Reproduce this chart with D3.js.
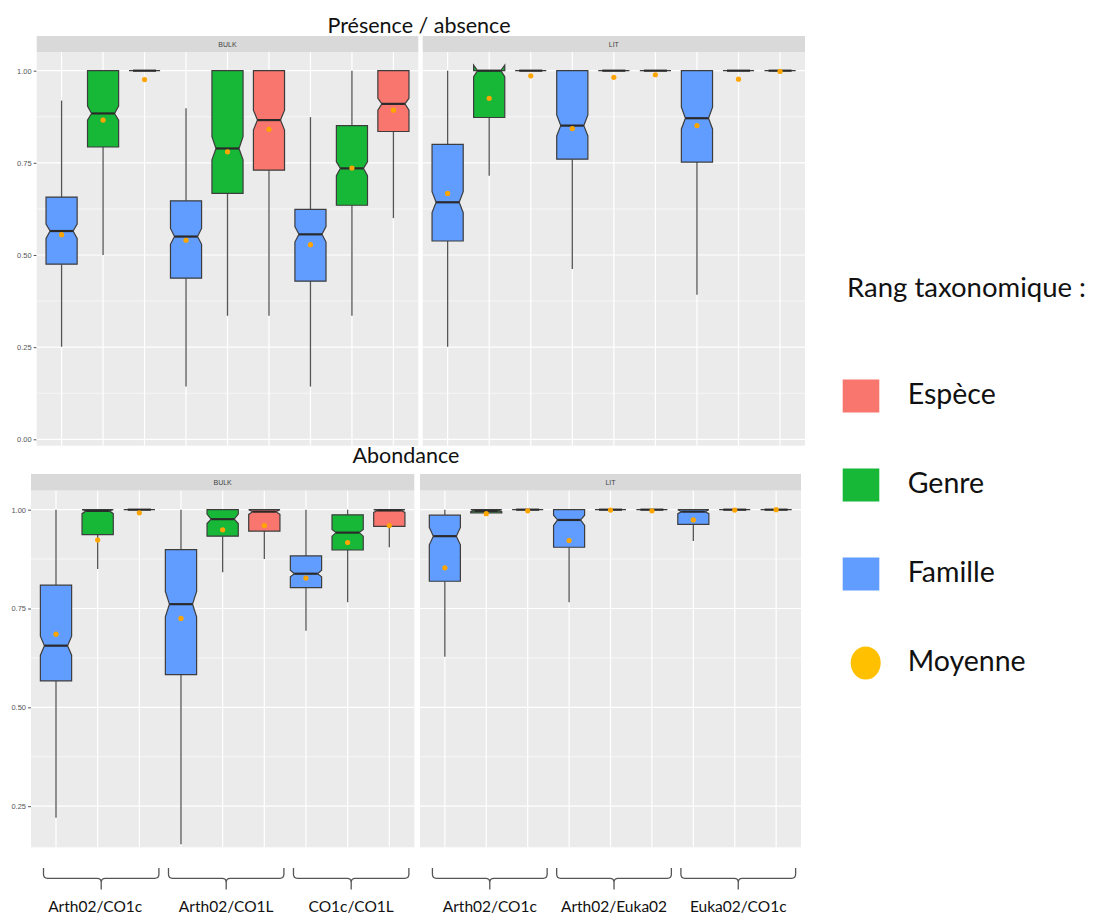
<!DOCTYPE html>
<html>
<head>
<meta charset="utf-8">
<script src="https://cdn.jsdelivr.net/npm/d3@7"></script>
<style>
  body { margin: 0; background: #fff; }
  svg { display: block; }
</style>
</head>
<body>
<div id="chart"></div>
<script>
// ---- data ----
// x order inside each facet: (comparison 1: Famille, Genre, Espece), (comparison 2: ...), ...
var ranks = ["Famille", "Genre", "Espèce"];
var bulkPairs = ["Arth02/CO1c", "Arth02/CO1L", "CO1c/CO1L"];
var litPairs = ["Arth02/CO1c", "Arth02/Euka02", "Euka02/CO1c"];
var facets = ["BULK", "LIT"];
var legendLabels = ["Espèce", "Genre", "Famille", "Moyenne"];

// each row: [ymin, lower, notchlower, middle, notchupper, upper, ymax, mean]
var presBulk = [
  [0.251, 0.475, 0.545, 0.565, 0.584, 0.657, 0.919, 0.555],
  [0.500, 0.793, 0.866, 0.884, 0.904, 1.000, 1.000, 0.866],
  [1.000, 1.000, 1.000, 1.000, 1.000, 1.000, 1.000, 0.976],
  [0.143, 0.437, 0.529, 0.550, 0.572, 0.647, 0.898, 0.540],
  [0.335, 0.667, 0.758, 0.789, 0.821, 1.000, 1.000, 0.780],
  [0.335, 0.730, 0.839, 0.866, 0.893, 1.000, 1.000, 0.841],
  [0.143, 0.429, 0.535, 0.556, 0.577, 0.624, 0.874, 0.528],
  [0.335, 0.635, 0.715, 0.735, 0.753, 0.851, 1.000, 0.736],
  [0.600, 0.835, 0.893, 0.910, 0.925, 1.000, 1.000, 0.893]
];
var presLit = [
  [0.251, 0.538, 0.615, 0.643, 0.672, 0.800, 1.000, 0.667],
  [0.715, 0.873, 0.984, 1.000, 1.015, 1.000, 1.000, 0.925],
  [1.000, 1.000, 1.000, 1.000, 1.000, 1.000, 1.000, 0.986],
  [0.462, 0.760, 0.823, 0.851, 0.880, 1.000, 1.000, 0.843],
  [1.000, 1.000, 1.000, 1.000, 1.000, 1.000, 1.000, 0.982],
  [1.000, 1.000, 1.000, 1.000, 1.000, 1.000, 1.000, 0.989],
  [0.392, 0.752, 0.842, 0.871, 0.901, 1.000, 1.000, 0.851],
  [1.000, 1.000, 1.000, 1.000, 1.000, 1.000, 1.000, 0.977],
  [1.000, 1.000, 1.000, 1.000, 1.000, 1.000, 1.000, 0.998]
];
var abBulk = [
  [0.221, 0.567, 0.632, 0.656, 0.680, 0.809, 1.000, 0.685],
  [0.850, 0.937, 0.990, 0.997, 1.000, 1.000, 1.000, 0.923],
  [1.000, 1.000, 1.000, 1.000, 1.000, 1.000, 1.000, 0.992],
  [0.154, 0.583, 0.729, 0.761, 0.793, 0.899, 1.000, 0.725],
  [0.842, 0.933, 0.965, 0.976, 0.989, 1.000, 1.000, 0.949],
  [0.875, 0.946, 0.988, 0.995, 1.000, 1.000, 1.000, 0.960],
  [0.694, 0.803, 0.830, 0.838, 0.847, 0.883, 1.000, 0.827],
  [0.766, 0.898, 0.933, 0.942, 0.950, 0.987, 1.000, 0.917],
  [0.905, 0.958, 0.993, 0.998, 1.000, 1.000, 1.000, 0.960]
];
var abLit = [
  [0.628, 0.819, 0.911, 0.933, 0.955, 0.986, 1.000, 0.853],
  [0.992, 0.992, 0.995, 0.997, 1.000, 1.000, 1.000, 0.990],
  [1.000, 1.000, 1.000, 1.000, 1.000, 1.000, 1.000, 0.997],
  [0.766, 0.905, 0.960, 0.974, 0.986, 1.000, 1.000, 0.922],
  [1.000, 1.000, 1.000, 1.000, 1.000, 1.000, 1.000, 0.999],
  [1.000, 1.000, 1.000, 1.000, 1.000, 1.000, 1.000, 0.997],
  [0.921, 0.963, 0.990, 0.995, 1.000, 1.000, 1.000, 0.974],
  [1.000, 1.000, 1.000, 1.000, 1.000, 1.000, 1.000, 0.999],
  [1.000, 1.000, 1.000, 1.000, 1.000, 1.000, 1.000, 1.000]
];
var presTicks = [0, 0.25, 0.5, 0.75, 1];
var abTicks = [0.25, 0.5, 0.75, 1];

// ---- layout ----
var width = 1101, height = 916;
var font = "Lato, 'Open Sans', sans-serif";
var color = d3.scaleOrdinal()
    .domain(ranks)
    .range(["#619CFF", "#17B838", "#F8766D"]);

var svg = d3.select("#chart")
    .append("svg")
    .attr("width", width)
    .attr("height", height);

svg.append("rect").attr("width", width).attr("height", height).attr("fill", "#fff");

var rows = [
  {title: "Présence / absence", titleX: 419, titleY: 33, stripTop: 36, top: 52, bottom: 445.7,
   domain: [-0.0174, 1.0507], ticks: presTicks, tickRight: 36.7,
   panels: [{x0: 36.7, x1: 418.3, data: presBulk}, {x0: 422.7, x1: 805, data: presLit}]},
  {title: "Abondance", titleX: 406, titleY: 463, stripTop: 474, top: 490.7, bottom: 847.3,
   domain: [0.146, 1.048], ticks: abTicks, tickRight: 31,
   panels: [{x0: 31, x1: 414.3, data: abBulk}, {x0: 420, x1: 801, data: abLit}]}
];

var lastRowScales = [];

rows.forEach(function(row, ri) {
  var y = d3.scaleLinear().domain(row.domain).range([row.bottom, row.top]);

  // title
  svg.append("text")
      .attr("x", row.titleX)
      .attr("y", row.titleY)
      .attr("text-anchor", "middle")
      .attr("font-family", font)
      .attr("font-size", 21.5)
      .attr("fill", "#111")
      .text(row.title);

  // y axis
  var yAxis = svg.append("g")
      .attr("transform", "translate(" + row.tickRight + ",0)")
      .call(d3.axisLeft(y).tickValues(row.ticks).tickFormat(d3.format(".2f")).tickSize(3).tickPadding(2));
  yAxis.select(".domain").remove();
  yAxis.selectAll(".tick line").attr("stroke", "#444").attr("stroke-width", 0.9);
  yAxis.selectAll(".tick text")
      .attr("fill", "#555")
      .attr("font-size", 7.5)
      .attr("font-family", "'Liberation Sans', Arial, sans-serif");

  var minor = [0.125, 0.375, 0.625, 0.875].filter(function(v) {
    return v > row.domain[0] && v < row.domain[1];
  });

  row.panels.forEach(function(p, pi) {
    var x = d3.scalePoint()
        .domain(d3.range(9))
        .range([p.x0, p.x1])
        .padding(0.6);
    var step = x.step();
    var bw = step * 0.75;
    var notchInset = bw * 0.13;
    if (ri === 1) lastRowScales.push(x);

    var g = svg.append("g");

    // strip
    g.append("rect")
        .attr("x", p.x0).attr("y", row.stripTop)
        .attr("width", p.x1 - p.x0).attr("height", row.top - row.stripTop)
        .attr("fill", "#D9D9D9");
    g.append("text")
        .attr("x", (p.x0 + p.x1) / 2)
        .attr("y", (row.stripTop + row.top) / 2 + 2.5)
        .attr("text-anchor", "middle")
        .attr("font-family", "'Liberation Sans', Arial, sans-serif")
        .attr("font-size", 7)
        .attr("fill", "#444")
        .text(facets[pi]);

    // panel background
    g.append("rect")
        .attr("x", p.x0).attr("y", row.top)
        .attr("width", p.x1 - p.x0).attr("height", row.bottom - row.top)
        .attr("fill", "#EBEBEB");

    // grid
    g.selectAll(".minor").data(minor).enter().append("line")
        .attr("x1", p.x0).attr("x2", p.x1)
        .attr("y1", function(d) { return y(d); })
        .attr("y2", function(d) { return y(d); })
        .attr("stroke", "#fff").attr("stroke-width", 0.6);
    g.selectAll(".major").data(row.ticks).enter().append("line")
        .attr("x1", p.x0).attr("x2", p.x1)
        .attr("y1", function(d) { return y(d); })
        .attr("y2", function(d) { return y(d); })
        .attr("stroke", "#fff").attr("stroke-width", 1.2);
    g.selectAll(".vgrid").data(d3.range(9)).enter().append("line")
        .attr("x1", function(d) { return x(d); })
        .attr("x2", function(d) { return x(d); })
        .attr("y1", row.top).attr("y2", row.bottom)
        .attr("stroke", "#fff").attr("stroke-width", 1.2);

    var boxes = g.selectAll(".box").data(p.data).enter().append("g");

    // whiskers
    boxes.append("line")
        .attr("x1", function(d, i) { return x(i); })
        .attr("x2", function(d, i) { return x(i); })
        .attr("y1", function(d) { return y(d[5]); })
        .attr("y2", function(d) { return y(d[6]); })
        .attr("stroke", "#555").attr("stroke-width", 1.3);
    boxes.append("line")
        .attr("x1", function(d, i) { return x(i); })
        .attr("x2", function(d, i) { return x(i); })
        .attr("y1", function(d) { return y(d[1]); })
        .attr("y2", function(d) { return y(d[0]); })
        .attr("stroke", "#555").attr("stroke-width", 1.3);

    // notched box
    boxes.append("path")
        .attr("d", function(d, i) {
          var l = x(i) - bw / 2, r = x(i) + bw / 2;
          var pts = [
            [l, y(d[5])], [l, y(d[4])], [l + notchInset, y(d[3])], [l, y(d[2])], [l, y(d[1])],
            [r, y(d[1])], [r, y(d[2])], [r - notchInset, y(d[3])], [r, y(d[4])], [r, y(d[5])]
          ];
          return d3.line()(pts) + "Z";
        })
        .attr("fill", function(d, i) { return color(ranks[i % 3]); })
        .attr("stroke", "#3d3d3d")
        .attr("stroke-width", 1.2)
        .attr("stroke-linejoin", "miter");

    // median
    boxes.append("line")
        .attr("x1", function(d, i) { return x(i) - bw / 2 + notchInset; })
        .attr("x2", function(d, i) { return x(i) + bw / 2 - notchInset; })
        .attr("y1", function(d) { return y(d[3]); })
        .attr("y2", function(d) { return y(d[3]); })
        .attr("stroke", "#2a2a2a").attr("stroke-width", 2.2);

    // mean
    boxes.append("circle")
        .attr("cx", function(d, i) { return x(i); })
        .attr("cy", function(d) { return y(d[7]); })
        .attr("r", 2.6)
        .attr("fill", "#FFA500");
  });
});

// brackets under the bottom row
var bracketTop = 868, bracketLine = 878.3, bracketTip = 889.5;
[bulkPairs, litPairs].forEach(function(pairs, pi) {
  var x = lastRowScales[pi];
  var step = x.step();
  pairs.forEach(function(name, k) {
    var l = x(k * 3) - 0.3 * step;
    var r = x(k * 3 + 2) + 0.47 * step;
    var c = (l + r) / 2;
    var rr = 4;
    var path = "M" + l + "," + bracketTop +
        " L" + l + "," + (bracketLine - rr) +
        " Q" + l + "," + bracketLine + " " + (l + rr) + "," + bracketLine +
        " L" + (c - rr) + "," + bracketLine +
        " Q" + c + "," + bracketLine + " " + c + "," + (bracketLine + rr) +
        " L" + c + "," + bracketTip +
        " M" + c + "," + (bracketLine + rr) +
        " Q" + c + "," + bracketLine + " " + (c + rr) + "," + bracketLine +
        " L" + (r - rr) + "," + bracketLine +
        " Q" + r + "," + bracketLine + " " + r + "," + (bracketLine - rr) +
        " L" + r + "," + bracketTop;
    svg.append("path")
        .attr("d", path)
        .attr("fill", "none")
        .attr("stroke", "#555")
        .attr("stroke-width", 1.3);
    svg.append("text")
        .attr("x", c - (pi === 0 && k === 0 ? 6 : 0))
        .attr("y", 911.5)
        .attr("text-anchor", "middle")
        .attr("font-family", font)
        .attr("font-size", 15.5)
        .attr("fill", "#111")
        .text(name);
  });
});

// legend (drawn as in the slide)
var legend = svg.append("g");
legend.append("text")
    .attr("x", 847)
    .attr("y", 296.5)
    .attr("font-family", font)
    .attr("font-size", 27.5)
    .attr("fill", "#111")
    .text("Rang taxonomique :");

var legendY = d3.scalePoint().domain(legendLabels).range([396, 663]);
var legendColor = {"Espèce": color("Espèce"), "Genre": color("Genre"), "Famille": color("Famille")};

legendLabels.forEach(function(lab) {
  var cy = legendY(lab);
  if (lab === "Moyenne") {
    legend.append("ellipse")
        .attr("cx", 865.7).attr("cy", cy)
        .attr("rx", 15).attr("ry", 16.5)
        .attr("fill", "#FFC000");
  } else {
    legend.append("rect")
        .attr("x", 842.7).attr("y", cy - 16.5)
        .attr("width", 36.6).attr("height", 33)
        .attr("fill", legendColor[lab]);
  }
  legend.append("text")
      .attr("x", 907.7)
      .attr("y", cy + 7.5)
      .attr("font-family", font)
      .attr("font-size", 28.5)
      .attr("fill", "#111")
      .text(lab);
});
</script>
</body>
</html>
